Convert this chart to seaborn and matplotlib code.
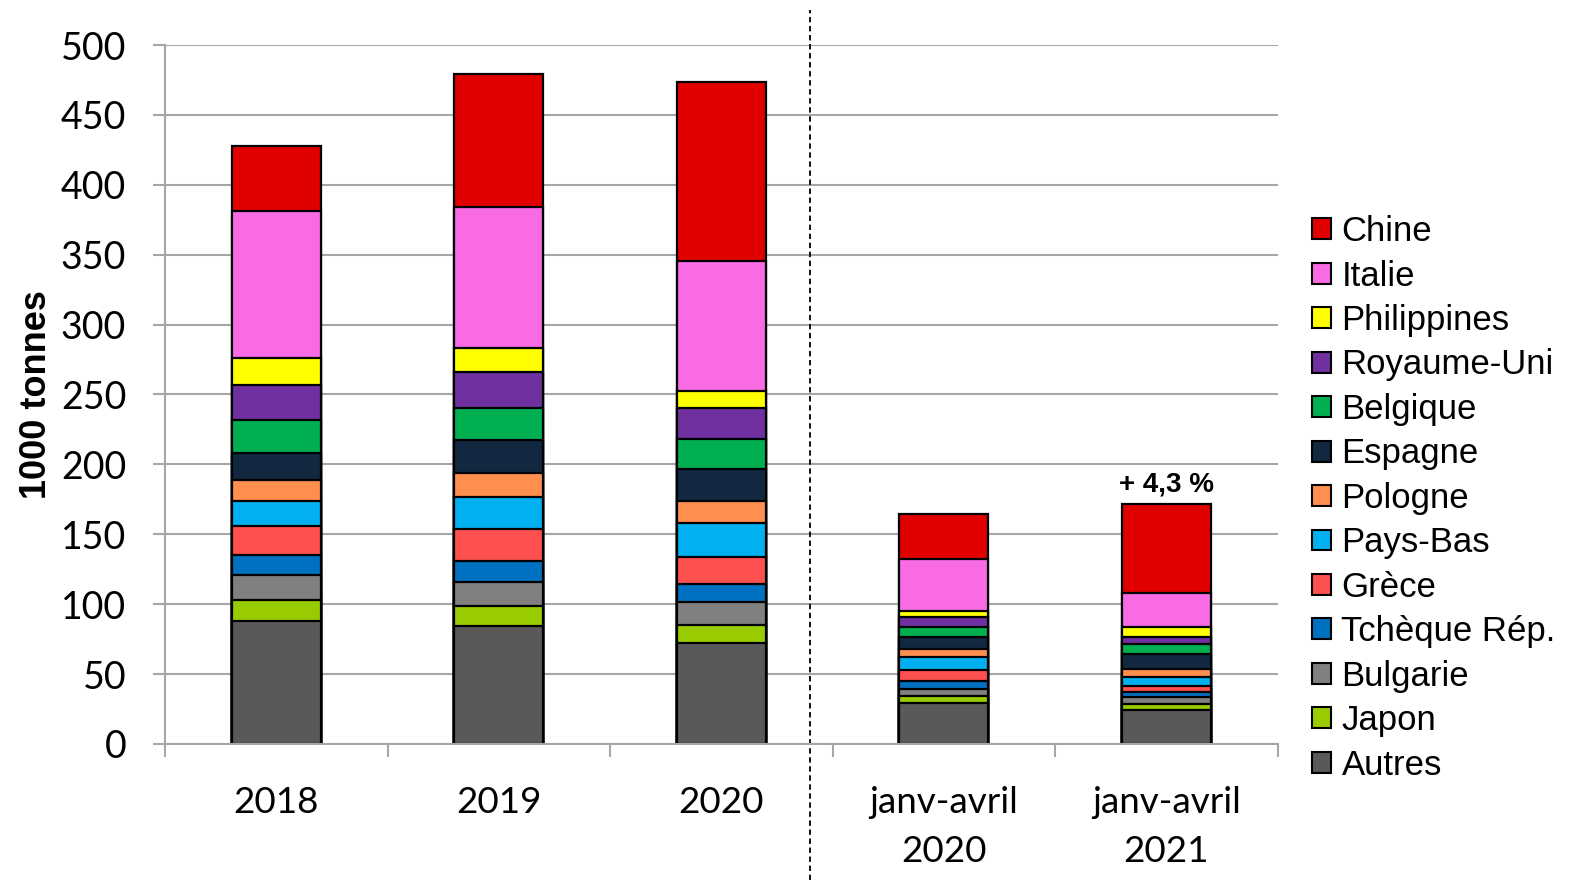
import numpy as np
import matplotlib
matplotlib.use("Agg")
import matplotlib.pyplot as plt
import matplotlib.transforms as mtransforms
from matplotlib.patches import Patch
import seaborn as sns

# categories (x axis)
periods = ["2018", "2019", "2020", "janv-avril\n2020", "janv-avril\n2021"]

# segments listed bottom -> top (values in 1000 tonnes)
countries = ["Autres", "Japon", "Bulgarie", "Tchèque Rép.", "Grèce", "Pays-Bas",
             "Pologne", "Espagne", "Belgique", "Royaume-Uni", "Philippines",
             "Italie", "Chine"]
autres = [88.0, 84.6, 72.4, 29.3, 24.4]
japon = [15.0, 14.3, 12.9, 4.9, 4.4]
bulgarie = [17.6, 16.8, 16.2, 5.4, 5.0]
tcheque = [14.8, 15.0, 12.6, 5.2, 3.7]
grece = [20.6, 22.9, 19.7, 8.1, 4.3]
pays_bas = [17.9, 23.2, 24.1, 9.2, 6.1]
pologne = [15.1, 17.3, 15.7, 5.9, 5.7]
espagne = [19.0, 23.5, 23.0, 8.7, 10.6]
belgique = [23.7, 22.6, 21.2, 7.3, 7.1]
royaume_uni = [24.9, 26.0, 22.4, 7.1, 5.4]
philippines = [19.5, 17.0, 12.6, 3.7, 7.1]
italie = [105.4, 101.1, 92.6, 37.6, 24.0]
chine = [46.6, 95.0, 128.2, 32.2, 63.8]

colors = ["#595959", "#99CC00", "#808080", "#0070C0", "#FF5050", "#00B0F0",
          "#FF8F4F", "#112840", "#00B050", "#7030A0", "#FFFF00",
          "#F86BE4", "#E00000"]

series = [autres, japon, bulgarie, tcheque, grece, pays_bas, pologne,
          espagne, belgique, royaume_uni, philippines, italie, chine]

growth_label = "+ 4,3 %"

sns.set_theme(style="white")
plt.rcParams["font.family"] = ["Lato", "DejaVu Sans"]
plt.rcParams["text.color"] = "black"
arial = ["Liberation Sans", "DejaVu Sans"]

fig = plt.figure(figsize=(15.87, 8.93), dpi=100)
ax = fig.add_axes([0.104, 0.1669, 0.701, 0.7827])

values = np.array(series)
cum = np.cumsum(values, axis=0)

# draw cumulative totals from the top down so each segment overlays the next
for i in range(len(series) - 1, -1, -1):
    sns.barplot(x=periods, y=cum[i], order=periods, color=colors[i],
                saturation=1, width=0.4, edgecolor="black", linewidth=1.6,
                errorbar=None, ax=ax)

ax.set_ylim(0, 500)
ax.set_xlim(-0.5, len(periods) - 0.5)
ax.set_yticks(np.arange(0, 501, 50))
ax.yaxis.grid(True, color="#a6a6a6", linewidth=1.5)
ax.set_axisbelow(True)

for side in ["top", "right"]:
    ax.spines[side].set_visible(False)
for side in ["left", "bottom"]:
    ax.spines[side].set_color("#a6a6a6")
    ax.spines[side].set_linewidth(1.5)

ax.tick_params(axis="y", which="major", length=9, width=1.5, color="#a6a6a6",
               labelsize=27, pad=19, left=True, labelcolor="black")
ax.tick_params(axis="x", which="major", length=0, labelsize=26.5, pad=30,
               labelcolor="black")
ax.set_xticks(np.arange(-0.5, len(periods), 1.0), minor=True)
ax.tick_params(axis="x", which="minor", length=9, width=1.5, color="#a6a6a6",
               bottom=True)
for lab in ax.get_xticklabels():
    lab.set_linespacing(1.6)

ax.set_xlabel("")
ax.set_ylabel("1000 tonnes", fontsize=26, fontweight="bold", family=arial,
              color="black", labelpad=5)

# growth label over the last bar
total_last = cum[-1][-1]
ax.text(len(periods) - 1, total_last + 5, growth_label, ha="center", va="bottom",
        fontsize=20, fontweight="bold", family=arial, color="black")

# dotted separator between full years and partial periods
trans = mtransforms.blended_transform_factory(ax.transData, ax.transAxes)
ax.plot([2.4, 2.4], [-0.195, 1.05], transform=trans, color="black",
        linestyle=(0, (3, 2)), linewidth=1.3, clip_on=False)

handles = [Patch(facecolor=c, edgecolor="black", linewidth=1.5, label=n)
           for n, c in zip(countries[::-1], colors[::-1])]
fig.legend(handles=handles, loc="center left", bbox_to_anchor=(0.807, 0.442),
           frameon=False, handlelength=0.55, handleheight=0.55,
           handletextpad=0.3, labelspacing=0.33, labelcolor="black",
           prop={"family": arial, "size": 25})

fig.savefig("out.png", dpi=100)
